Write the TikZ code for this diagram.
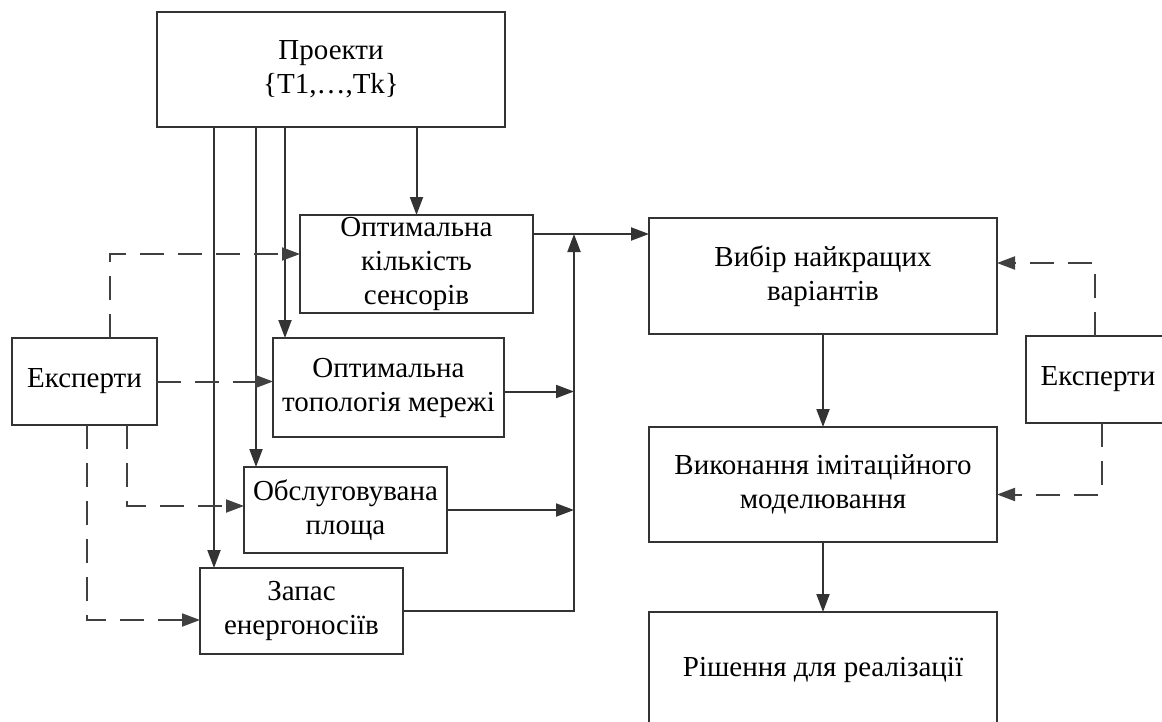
\documentclass[tikz,border=0pt]{standalone}
\usepackage{fontspec}
\setmainfont{Liberation Serif}
\usetikzlibrary{positioning,arrows.meta}

\begin{document}
\begin{tikzpicture}[
  x=0.5pt, y=-0.5pt,
  >={Triangle[length=9pt,width=6.5pt]},
  mybox/.style={draw=black!80, line width=1pt, inner sep=0pt, outer sep=0pt,
    align=center, font=\fontsize{14.5}{17}\selectfont},
  myline/.style={->, draw=black!80, line width=1pt},
  mydash/.style={->, draw=black!75, line width=1pt, dash pattern=on 12pt off 7pt}]
\useasboundingbox (0,0) rectangle (1162,722);

% left part
\node[mybox, minimum width=174pt, minimum height=57.5pt] (proj) at (331,69.5) {Проекти\\\{T1,…,Tk\}};
\node[mybox, minimum width=116.5pt, minimum height=49pt] (opt) at (416.5,264) {Оптимальна\\кількість\\сенсорів};
\node[mybox, minimum width=115.5pt, minimum height=49.5pt] (topo) at (388.5,387.5) {Оптимальна\\топологія мережі};
\node[mybox, minimum width=101.5pt, minimum height=43pt] (obsl) at (345.5,510) {Обслуговувана\\площа};
\node[mybox, minimum width=101.5pt, minimum height=43pt] (zapas) at (301.5,611) {Запас\\енергоносіїв};
\node[mybox, minimum width=72.5pt, minimum height=43.5pt] (exp1) at (84.5,381.5) {Експерти};

% right part
\node[mybox, minimum width=174pt, minimum height=58pt] (vybir) at (823,276) {Вибір найкращих\\варіантів};
\node[mybox, minimum width=174pt, minimum height=57.5pt, below=46.5pt of vybir] (vykon) {Виконання імітаційного\\моделювання};
\node[mybox, minimum width=174pt, minimum height=57.5pt, below=35pt of vykon] (rish) {Рішення для реалізації};
\node[mybox, minimum width=72pt, minimum height=43.5pt] (exp2) at (1098,379.5) {Експерти};

\coordinate (t3) at ([xshift=6pt]topo.north west);
\coordinate (t2) at ([xshift=6pt]obsl.north west);
\coordinate (t1) at ([xshift=7pt]zapas.north west);
\coordinate (join) at (574,234);

% from projects
\draw[myline] (proj.south -| opt.north) -- (opt.north);
\draw[myline] (proj.south -| t3) -- (t3);
\draw[myline] (proj.south -| t2) -- (t2);
\draw[myline] (proj.south -| t1) -- (t1);

% experts (left)
\draw[mydash] ([xshift=12.75pt]exp1.north) |- ([yshift=5pt]opt.west);
\draw[mydash] (exp1.east) -- (exp1.east -| topo.west);
\draw[mydash] ([xshift=21.25pt]exp1.south) |- ([yshift=2pt]obsl.west);
\draw[mydash] ([xshift=1pt]exp1.south) |- ([yshift=-4.5pt]zapas.west);

% results to the choice
\draw[myline] ([yshift=15pt]opt.east) -- ([yshift=15pt]opt.east -| vybir.west);
\draw[myline] ([yshift=-2pt]topo.east) -- ([yshift=-2pt]topo.east -| join);
\draw[myline] (obsl.east) -- (obsl.east -| join);
\draw[myline] (zapas.east) -| (join);

% right column
\draw[myline] (vybir) -- (vykon);
\draw[myline] (vykon) -- (rish);
\draw[mydash] ([xshift=-1.5pt]exp2.north) |- ([yshift=6.5pt]vybir.east);
\draw[mydash] ([xshift=2pt]exp2.south) |- ([yshift=-5pt]vykon.east);

\end{tikzpicture}
\end{document}
